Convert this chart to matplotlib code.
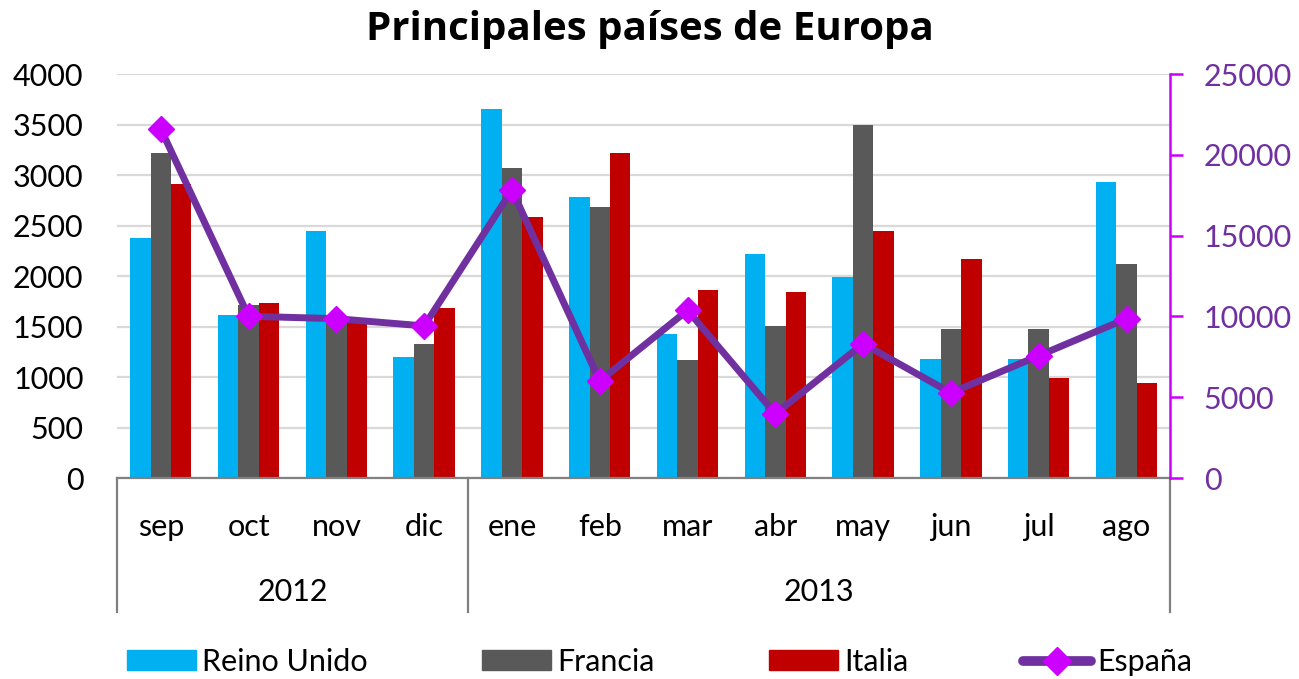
import matplotlib
matplotlib.use("Agg")
import matplotlib.pyplot as plt
import numpy as np
from matplotlib.lines import Line2D
from matplotlib.patches import Patch

plt.rcParams['font.family'] = ['Lato', 'DejaVu Sans']

# Data
months = ['sep', 'oct', 'nov', 'dic', 'ene', 'feb', 'mar', 'abr', 'may', 'jun', 'jul', 'ago']
years = ['2012', '2013']
year_spans = [(0, 3), (4, 11)]
reino_unido = [2380, 1610, 2450, 1200, 3650, 2780, 1430, 2220, 1990, 1180, 1180, 2935]
francia = [3215, 1710, 1570, 1330, 3065, 2685, 1170, 1505, 3495, 1480, 1480, 2115]
italia = [2910, 1735, 1545, 1685, 2580, 3215, 1865, 1840, 2450, 2170, 995, 945]
espana = [21590, 10010, 9860, 9410, 17820, 6000, 10380, 3970, 8310, 5270, 7570, 9860]

c_ru = '#00B0F0'
c_fr = '#595959'
c_it = '#C00000'
c_line = '#7030A0'
c_mark = '#CC00FF'
fs = 22

fig = plt.figure(figsize=(12.99, 6.79), dpi=100)
ax = fig.add_axes([0.090, 0.296, 0.811, 0.595])

x = np.arange(len(months))
w = 0.233
ax.bar(x - w, reino_unido, w, color=c_ru, zorder=2)
ax.bar(x, francia, w, color=c_fr, zorder=2)
ax.bar(x + w, italia, w, color=c_it, zorder=2)

ax.set_xlim(-0.5, len(months) - 0.5)
ax.set_ylim(0, 4000)
ax.set_yticks(np.arange(0, 4001, 500))
ax.yaxis.grid(True, color='#D9D9D9', linewidth=1.6, zorder=0)
ax.set_axisbelow(True)
ax.tick_params(axis='y', length=0, labelsize=fs, pad=24)
ax.set_xticks([])
for s in ['left', 'right', 'top']:
    ax.spines[s].set_visible(False)
ax.spines['bottom'].set_color('#808080')
ax.spines['bottom'].set_linewidth(1.6)

# secondary axis for España
ax2 = ax.twinx()
ax2.plot(x, espana, color=c_line, linewidth=5, marker='D', markersize=13,
         markerfacecolor=c_mark, markeredgecolor=c_mark, zorder=3)
ax2.set_ylim(0, 25000)
ax2.set_yticks(np.arange(0, 25001, 5000))
ax2.tick_params(axis='y', colors=c_mark, labelcolor=c_line, labelsize=fs,
                length=9, width=1.8, direction='out', pad=15)
for s in ['left', 'top', 'bottom']:
    ax2.spines[s].set_visible(False)
ax2.spines['right'].set_color(c_mark)
ax2.spines['right'].set_linewidth(1.8)

# two-level category axis
trans = ax.get_xaxis_transform()
for i, m in enumerate(months):
    ax.text(i, -0.121, m, transform=trans, ha='center', va='center', fontsize=fs)
for yr, (a, b) in zip(years, year_spans):
    ax.text((a + b) / 2, -0.282, yr, transform=trans, ha='center', va='center', fontsize=fs)
for xs in [-0.5, 3.5, len(months) - 0.5]:
    ax.plot([xs, xs], [0, -0.332], transform=trans, color='#808080',
            linewidth=1.6, clip_on=False)

fig.text(0.5, 0.957, 'Principales países de Europa', ha='center', va='center',
         fontsize=29, fontweight='bold', family=['Open Sans', 'DejaVu Sans'])

handles = [Patch(color=c_ru), Patch(color=c_fr), Patch(color=c_it),
           Line2D([0], [0], color=c_line, linewidth=7, marker='D', markersize=14,
                  markerfacecolor=c_mark, markeredgecolor=c_mark,
                  solid_capstyle='round')]
fig.legend(handles, ['Reino Unido', 'Francia', 'Italia', 'España'],
           loc='center left', bbox_to_anchor=(0.0978, 0.025), ncol=4, frameon=False,
           fontsize=fs, handlelength=2.25, handleheight=0.65, handletextpad=0.2,
           columnspacing=3.75, borderaxespad=0, borderpad=0)

fig.savefig('out.png', dpi=100)
